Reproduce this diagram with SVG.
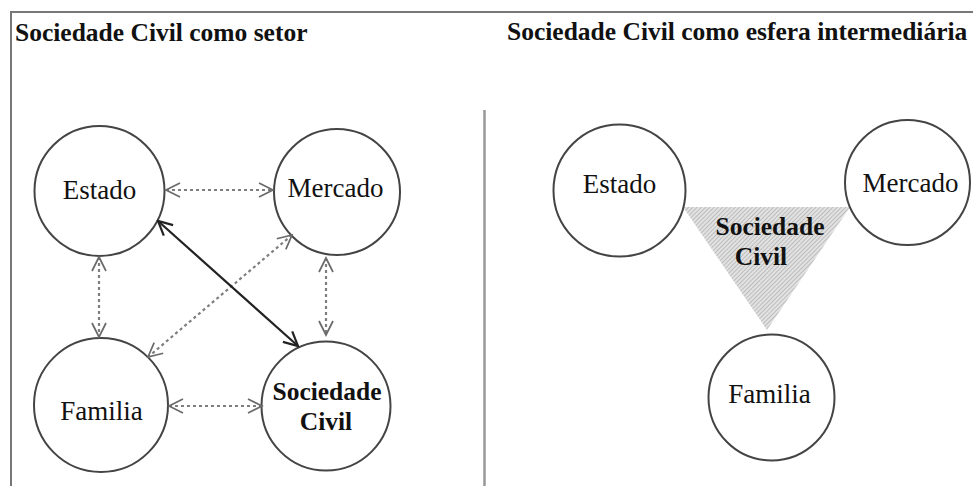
<svg xmlns="http://www.w3.org/2000/svg" width="973" height="486" viewBox="0 0 973 486">
<style>
text{font-family:"Liberation Serif","Times New Roman","DejaVu Serif",serif;fill:#111;}
.title{font-size:25.5px;font-weight:bold;}
.lbl{font-family:"Liberation Serif","Times New Roman",serif;font-size:27px;font-weight:normal;text-anchor:middle;}
.blbl{font-size:25.5px;font-weight:bold;text-anchor:middle;}
.node{fill:#fff;stroke:#444;stroke-width:2;}
.dot{stroke:#7e7e7e;stroke-width:2.2;stroke-dasharray:3 3;fill:none;}
.solid{stroke:#222;stroke-width:2.2;fill:none;}
</style>
<defs>
<marker id="ag" viewBox="-16 -9 18 18" refX="0" refY="0" markerWidth="18" markerHeight="18" markerUnits="userSpaceOnUse" orient="auto-start-reverse">
<path d="M-14,-7 L0,0 L-14,7" fill="none" stroke="#6a6a6a" stroke-width="1.7"/>
</marker>
<marker id="ak" viewBox="-16 -9 18 18" refX="0" refY="0" markerWidth="18" markerHeight="18" markerUnits="userSpaceOnUse" orient="auto-start-reverse">
<path d="M-14,-7 L0,0 L-14,7" fill="none" stroke="#222" stroke-width="2.2"/>
</marker>
<pattern id="hatch" patternUnits="userSpaceOnUse" width="3" height="3" patternTransform="rotate(45)">
<rect width="3" height="3" fill="#e2e2e2"/>
<line x1="0" y1="0" x2="0" y2="3" stroke="#a8a8a8" stroke-width="1.3"/>
</pattern>
</defs>
<rect x="0" y="0" width="973" height="486" fill="#fff"/>
<path d="M11,486 V12 H973" fill="none" stroke="#777" stroke-width="2"/>
<line x1="484.5" y1="110" x2="484.5" y2="486" stroke="#999" stroke-width="2.5"/>
<text class="title" x="15" y="41">Sociedade Civil como setor</text>
<text class="title" x="507" y="40">Sociedade Civil como esfera intermediária</text>

<g id="l-estado">
<circle class="node" cx="99.5" cy="191" r="65"/>
<text class="lbl" x="99.5" y="199">Estado</text>
</g>
<g id="l-mercado">
<circle class="node" cx="337" cy="192" r="63"/>
<text class="lbl" x="335.5" y="197">Mercado</text>
</g>
<g id="l-familia">
<circle class="node" cx="101" cy="405" r="67"/>
<text class="lbl" x="101.5" y="420">Familia</text>
</g>
<g id="l-sociedade">
<circle class="node" cx="326" cy="406" r="64.5"/>
<text class="blbl" x="327" y="400">Sociedade</text>
<text class="blbl" x="326" y="430">Civil</text>
</g>

<g id="connectors">
<line class="dot" x1="166" y1="190" x2="273" y2="190" marker-start="url(#ag)" marker-end="url(#ag)"/>
<line class="dot" x1="99" y1="257" x2="99" y2="337" marker-start="url(#ag)" marker-end="url(#ag)"/>
<line class="dot" x1="326" y1="258" x2="326" y2="335" marker-start="url(#ag)" marker-end="url(#ag)"/>
<line class="dot" x1="169" y1="406" x2="262" y2="406" marker-start="url(#ag)" marker-end="url(#ag)"/>
<line class="dot" x1="292" y1="235" x2="148" y2="357" marker-start="url(#ag)" marker-end="url(#ag)"/>
<line class="solid" x1="158" y1="221" x2="298" y2="346" marker-start="url(#ak)" marker-end="url(#ak)"/>
</g>

<g id="r-sociedade">
<polygon points="683,207 850,207 767,330" fill="url(#hatch)"/>
<text class="blbl" x="770" y="235">Sociedade</text>
<text class="blbl" x="761" y="265">Civil</text>
</g>
<g id="r-estado">
<circle class="node" cx="619.5" cy="190.5" r="66"/>
<text class="lbl" x="619.5" y="193">Estado</text>
</g>
<g id="r-mercado">
<circle class="node" cx="907.5" cy="182.5" r="62.5"/>
<text class="lbl" x="910.5" y="192">Mercado</text>
</g>
<g id="r-familia">
<circle class="node" cx="771.5" cy="397.5" r="63"/>
<text class="lbl" x="769.5" y="403">Familia</text>
</g>
</svg>
